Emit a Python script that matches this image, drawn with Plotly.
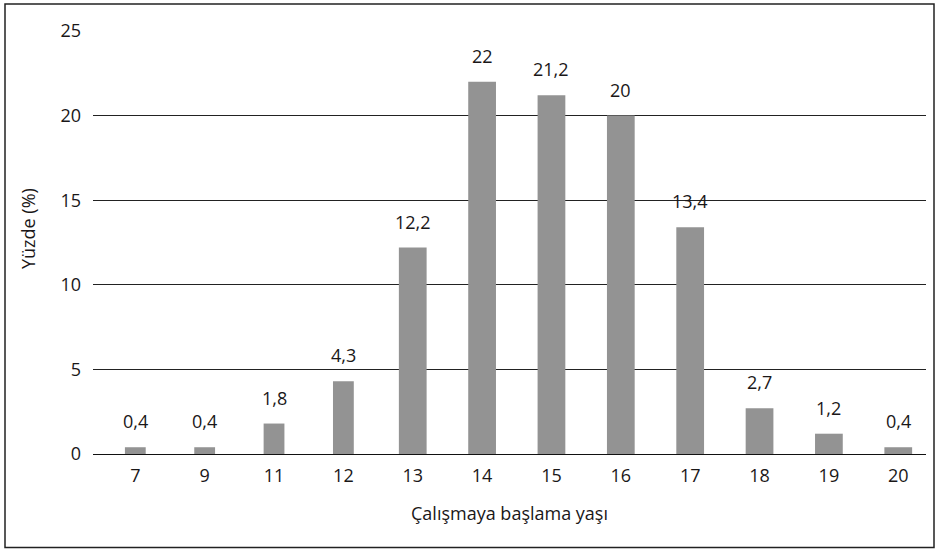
import plotly.graph_objects as go

ages = ["7", "9", "11", "12", "13", "14", "15", "16", "17", "18", "19", "20"]
percent = [0.4, 0.4, 1.8, 4.3, 12.2, 22, 21.2, 20, 13.4, 2.7, 1.2, 0.4]
labels = ["0,4", "0,4", "1,8", "4,3", "12,2", "22", "21,2", "20", "13,4", "2,7", "1,2", "0,4"]
y_ticks = [0, 5, 10, 15, 20, 25]

FONT = "Open Sans"
TXT = "#1a1718"
FS = 18

W, H = 935, 549
L, R, T, B = 93, 9, 31, 95
pw, ph = W - L - R, H - T - B

widths = [0.30 if i < 4 else 0.40 for i in range(len(ages))]

fig = go.Figure()
fig.add_trace(go.Bar(
    x=ages, y=percent, width=widths,
    marker=dict(color="#939393", line=dict(width=0)),
    hoverinfo="skip",
))

for i, (v, t) in enumerate(zip(percent, labels)):
    fig.add_annotation(x=i, y=v, text=t, showarrow=False, yanchor="bottom",
                       yshift=12, font=dict(family=FONT, size=FS, color=TXT))

# axis titles
fig.add_annotation(xref="paper", yref="paper", x=0.5, y=(H - 513 - B) / ph,
                   text="Çalışmaya başlama yaşı", showarrow=False,
                   yanchor="middle", font=dict(family=FONT, size=FS, color=TXT))
fig.add_annotation(xref="paper", yref="paper", x=(28 - L) / pw, y=(H - 229 - B) / ph,
                   text="Yüzde (%)", showarrow=False, textangle=-90,
                   xanchor="center", yanchor="middle",
                   font=dict(family=FONT, size=FS, color=TXT))

# outer frame
fig.add_shape(type="rect", xref="paper", yref="paper",
              x0=(5 - L) / pw, x1=(934 - L) / pw,
              y0=(H - 547.5 - B) / ph, y1=(H - 4 - B) / ph,
              line=dict(color="#222222", width=1.5), fillcolor="rgba(0,0,0,0)",
              layer="above")

fig.update_layout(
    width=W, height=H,
    margin=dict(l=L, r=R, t=T, b=B),
    paper_bgcolor="white", plot_bgcolor="white",
    showlegend=False,
    font=dict(family=FONT, size=FS, color=TXT),
    xaxis=dict(type="category", range=[-0.61, 11.40], showgrid=False,
               showline=False, zeroline=False, ticks="",
               ticklabelstandoff=9,
               tickfont=dict(family=FONT, size=FS, color=TXT)),
    yaxis=dict(range=[0, 25], tickvals=y_ticks, showgrid=True,
               gridcolor="#222222", gridwidth=1, zeroline=True,
               zerolinecolor="#111111", zerolinewidth=1.3,
               showline=False, ticks="", ticklabelstandoff=11,
               tickfont=dict(family=FONT, size=FS, color=TXT)),
)

fig.write_html("out.html", config={"displayModeBar": False},
               post_script="document.body.style.margin='0';document.body.style.overflow='hidden';")
